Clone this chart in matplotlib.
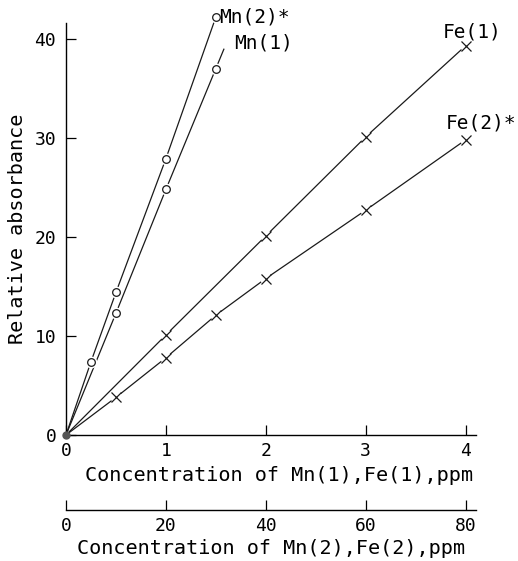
import numpy as np
import matplotlib.pyplot as plt

plt.rcParams['font.family'] = ['DejaVu Sans Mono']

# 數據 (讀自圖面)
mn2_x = [0, 0.25, 0.5, 1.0, 1.5]
mn2_y = [0, 7.4, 14.4, 27.9, 42.2]
mn1_x = [0, 0.5, 1.0, 1.5]
mn1_y = [0, 12.3, 24.8, 37.0]
fe1_x = [0, 1, 2, 3, 4]
fe1_y = [0, 10.1, 20.1, 30.1, 39.3]
fe2_x = [0, 0.5, 1.0, 1.5, 2, 3, 4]
fe2_y = [0, 3.8, 7.8, 12.1, 15.8, 22.7, 29.8]

x_ticks = [0, 1, 2, 3, 4]
x2_ticks = [0, 20, 40, 60, 80]
y_ticks = [0, 10, 20, 30, 40]

W, H = 518, 561
fig = plt.figure(figsize=(W / 100, H / 100), dpi=100)

# 主軸
x0, x1 = 66, 475.6
y0, y1 = 435, 23
ax = fig.add_axes([x0 / W, 1 - y0 / H, (x1 - x0) / W, (y0 - y1) / H])
ax.set_xlim(0, 4.1)
ax.set_ylim(0, 41.6)
for s in ['top', 'right']:
    ax.spines[s].set_visible(False)
for s in ['left', 'bottom']:
    ax.spines[s].set_linewidth(1.0)

lc = '#1a1a1a'
lw = 0.9

def draw(xs, ys, mk, ext=0.0):
    xs = list(xs); ys = list(ys)
    lx, ly = xs[:], ys[:]
    if ext:
        sl = (ys[-1] - ys[-2]) / (xs[-1] - xs[-2])
        lx.append(xs[-1] + ext)
        ly.append(ys[-1] + sl * ext)
    ax.plot(lx, ly, color=lc, lw=lw, clip_on=False, zorder=2)
    # 白底遮斷線條
    ax.plot(xs[1:], ys[1:], ls='none', marker='o', ms=7.5, mfc='white',
            mec='white', clip_on=False, zorder=3)
    if mk == 'o':
        ax.plot(xs[1:], ys[1:], ls='none', marker='o', ms=5.5, mfc='white',
                mec=lc, mew=0.9, clip_on=False, zorder=4)
    else:
        ax.plot(xs[1:], ys[1:], ls='none', marker='x', ms=7,
                mec=lc, mew=0.9, clip_on=False, zorder=4)

draw(mn2_x, mn2_y, 'o')
draw(mn1_x, mn1_y, 'o', ext=0.08)
draw(fe1_x, fe1_y, 'x')
draw(fe2_x, fe2_y, 'x')
ax.plot([0], [0], marker='o', ms=5, color='#555555', clip_on=False, zorder=5)

fs = 13
ax.set_xticks(x_ticks)
ax.set_yticks(y_ticks)
ax.set_xticklabels([str(t) for t in x_ticks], fontsize=fs)
ax.set_yticklabels([str(t) for t in y_ticks], fontsize=fs)
ax.tick_params(axis='x', direction='in', length=7, width=0.9, pad=5)
ax.tick_params(axis='y', direction='in', length=7, width=0.9, pad=7)
ax.set_xlabel('Concentration of Mn(1),Fe(1),ppm', fontsize=14.5)
ax.set_ylabel('Relative absorbance', fontsize=14.5)
ax.xaxis.set_label_coords(0.52, -0.075)
ax.yaxis.set_label_coords(-0.095, 0.5)

# 曲線標籤
ax.text(1.53, 42.2, 'Mn(2)*', fontsize=14, va='center', ha='left')
ax.text(1.68, 39.6, 'Mn(1)', fontsize=14, va='center', ha='left')
ax.text(4.07, 40.7, 'Fe(1)', fontsize=14, va='center', ha='center')
ax.text(4.15, 31.5, 'Fe(2)*', fontsize=14, va='center', ha='center')

# 第二 x 軸
yb = 510
ax2 = fig.add_axes([x0 / W, 1 - yb / H, (x1 - x0) / W, 0.001])
ax2.set_xlim(0, 82)
for s in ['top', 'right', 'left']:
    ax2.spines[s].set_visible(False)
ax2.spines['bottom'].set_linewidth(1.0)
ax2.set_yticks([])
ax2.set_xticks(x2_ticks)
ax2.set_xticklabels([str(t) for t in x2_ticks], fontsize=fs)
ax2.tick_params(axis='x', direction='in', length=7, width=0.9, pad=5)
ax2.set_xlabel('Concentration of Mn(2),Fe(2),ppm', fontsize=14.5, labelpad=3)
ax2.patch.set_visible(False)

plt.savefig('out.png', dpi=100)
